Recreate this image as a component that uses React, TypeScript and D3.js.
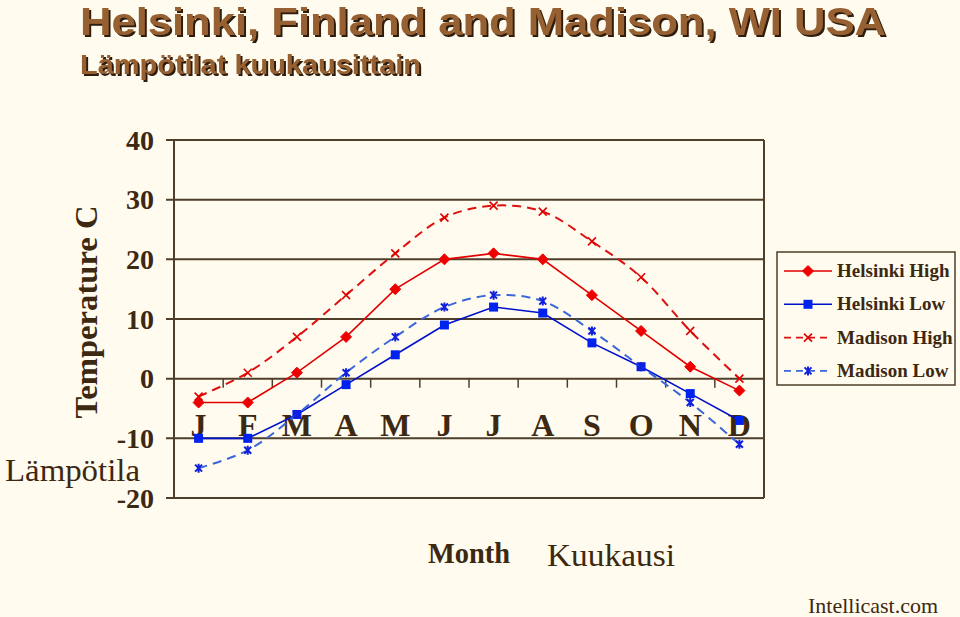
import React from "react";
import * as d3 from "d3";

const months = ["J", "F", "M", "A", "M", "J", "J", "A", "S", "O", "N", "D"];
const helsinkiHigh = [-4, -4, 1, 7, 15, 20, 21, 20, 14, 8, 2, -2];
const helsinkiLow = [-10, -10, -6, -1, 4, 9, 12, 11, 6, 2, -2.5, -7];
const madisonHigh = [-3, 1, 7, 14, 21, 27, 29, 28, 23, 17, 8, 0];
const madisonLow = [-15, -12, -6, 1, 7, 12, 14, 13, 8, 2, -4, -11];
const yTicks = [40, 30, 20, 10, 0, -10, -20];
const seriesNames = ["Helsinki High", "Helsinki Low", "Madison High", "Madison Low"];

const W = 960;
const H = 617;
const BG = "#fffcef";
const INK = "#3d2812";
const GRID = "#4e3e2a";

const series = [
  { name: seriesNames[0], data: helsinkiHigh, color: "#e00000", dash: null, marker: "diamond", smooth: false, mcolor: "#ee0000" },
  { name: seriesNames[1], data: helsinkiLow, color: "#0010cc", dash: null, marker: "square", smooth: false, mcolor: "#0022ee" },
  { name: seriesNames[2], data: madisonHigh, color: "#dd1010", dash: "9,6", marker: "x", smooth: true, mcolor: "#e00000" },
  { name: seriesNames[3], data: madisonLow, color: "#3a66d8", dash: "9,6", marker: "star", smooth: true, mcolor: "#1020dd" },
];

function Marker({ type, x, y, color }: { type: string; x: number; y: number; color: string }) {
  if (type === "diamond") {
    const s = 5.5;
    return <path d={`M${x},${y - s}L${x + s},${y}L${x},${y + s}L${x - s},${y}Z`} fill={color} stroke={color} strokeWidth={1} />;
  }
  if (type === "square") {
    const s = 4.5;
    return <rect x={x - s} y={y - s} width={2 * s} height={2 * s} fill={color} />;
  }
  if (type === "x") {
    const s = 4;
    return <path d={`M${x - s},${y - s}L${x + s},${y + s}M${x - s},${y + s}L${x + s},${y - s}`} stroke={color} strokeWidth={1.6} />;
  }
  const s = 3.5;
  return (
    <path
      d={`M${x - s},${y - s}L${x + s},${y + s}M${x - s},${y + s}L${x + s},${y - s}M${x},${y - s - 1}L${x},${y + s + 1}`}
      stroke={color}
      strokeWidth={2}
    />
  );
}

export default function App() {
  const left = 174;
  const right = 764;
  const y = d3.scaleLinear().domain([-20, 40]).range([498, 140]);
  const x = d3.scaleBand<number>().domain(d3.range(12)).range([left, right]).padding(0);
  const cx = (i: number) => (x(i) as number) + x.bandwidth() / 2;
  const serif = "'Liberation Serif', 'Times New Roman', serif";
  const sans = "'Liberation Sans', Arial, sans-serif";

  const straight = d3.line<number>().x((_, i) => cx(i)).y((d) => y(d));
  const smooth = d3.line<number>().x((_, i) => cx(i)).y((d) => y(d)).curve(d3.curveCatmullRom.alpha(0.5));

  const legendX = 777;
  const legendY = 252;
  const legendW = 178;
  const legendH = 133;

  return (
    <svg width={W} height={H} style={{ position: "absolute", left: 0, top: 0, background: BG }}>
      <defs>
        <filter id="shadow" x="-5%" y="-20%" width="110%" height="150%">
          <feDropShadow dx={2} dy={2} stdDeviation={0.6} floodColor="#2e1e08" floodOpacity={1} />
        </filter>
      </defs>
      <rect x={0} y={0} width={W} height={H} fill={BG} />

      {/* titles */}
      <g fontFamily={sans} fontWeight="bold" fill="#966030" filter="url(#shadow)">
        <text x={80} y={35} fontSize={38} textLength={806} lengthAdjust="spacingAndGlyphs">
          Helsinki, Finland and Madison, WI USA
        </text>
        <text x={80} y={74} fontSize={27} textLength={341} lengthAdjust="spacingAndGlyphs">
          Lämpötilat kuukausittain
        </text>
      </g>

      {/* gridlines */}
      {yTicks.map((t) => (
        <line key={t} x1={166} x2={right} y1={y(t)} y2={y(t)} stroke={GRID} strokeWidth={2} />
      ))}
      <line x1={left} x2={left} y1={y(40)} y2={y(-20)} stroke={GRID} strokeWidth={2} />
      <line x1={right} x2={right} y1={y(40)} y2={y(-20)} stroke={GRID} strokeWidth={2} />
      {/* x ticks at y=0 */}
      {d3.range(1, 12).map((i) => (
        <line key={i} x1={x(i) as number} x2={x(i) as number} y1={y(0)} y2={y(0) + 9} stroke={GRID} strokeWidth={1.5} />
      ))}

      {/* y tick labels */}
      {yTicks.map((t) => (
        <text key={t} x={154} y={y(t) + 9.5} textAnchor="end" fontFamily={serif} fontWeight="bold" fontSize={28} fill={INK}>
          {t}
        </text>
      ))}

      {/* month labels */}
      {months.map((m, i) => (
        <text key={i} x={cx(i)} y={436} textAnchor="middle" fontFamily={serif} fontWeight="bold" fontSize={32} fill={INK}>
          {m}
        </text>
      ))}

      {/* series */}
      {series.map((s) => (
        <g key={s.name}>
          <path
            d={(s.smooth ? smooth : straight)(s.data) as string}
            fill="none"
            stroke={s.color}
            strokeWidth={s.dash ? 2 : 1.6}
            strokeDasharray={s.dash ?? undefined}
          />
          {s.data.map((v, i) => (
            <Marker key={i} type={s.marker} x={cx(i)} y={y(v)} color={s.mcolor} />
          ))}
        </g>
      ))}

      {/* axis titles */}
      <text
        transform={`translate(97,312) rotate(-90)`}
        textAnchor="middle"
        fontFamily={serif}
        fontWeight="bold"
        fontSize={31}
        textLength={213}
        lengthAdjust="spacingAndGlyphs"
        fill={INK}
      >
        Temperature C
      </text>
      <text x={5} y={481} fontFamily={serif} fontSize={31} textLength={135} lengthAdjust="spacingAndGlyphs" fill={INK}>
        Lämpötila
      </text>
      <text x={428} y={563} fontFamily={serif} fontWeight="bold" fontSize={30} textLength={82} lengthAdjust="spacingAndGlyphs" fill={INK}>
        Month
      </text>
      <text x={547} y={566} fontFamily={serif} fontSize={32} textLength={128} lengthAdjust="spacingAndGlyphs" fill={INK}>
        Kuukausi
      </text>
      <text x={808} y={613} fontFamily={serif} fontSize={22} textLength={130} lengthAdjust="spacingAndGlyphs" fill={INK}>
        Intellicast.com
      </text>

      {/* legend */}
      <rect x={legendX} y={legendY} width={legendW} height={legendH} fill={BG} stroke={GRID} strokeWidth={1.5} />
      {series.map((s, i) => {
        const ly = 271 + i * 33.3;
        return (
          <g key={s.name}>
            <line
              x1={784}
              x2={832}
              y1={ly}
              y2={ly}
              stroke={s.color}
              strokeWidth={s.dash ? 1.8 : 1.6}
              strokeDasharray={s.dash ? "7,5" : undefined}
            />
            <Marker type={s.marker} x={808} y={ly} color={s.mcolor} />
            <text x={837} y={ly + 6} fontFamily={serif} fontWeight="bold" fontSize={19} fill={INK}>
              {s.name}
            </text>
          </g>
        );
      })}
    </svg>
  );
}
